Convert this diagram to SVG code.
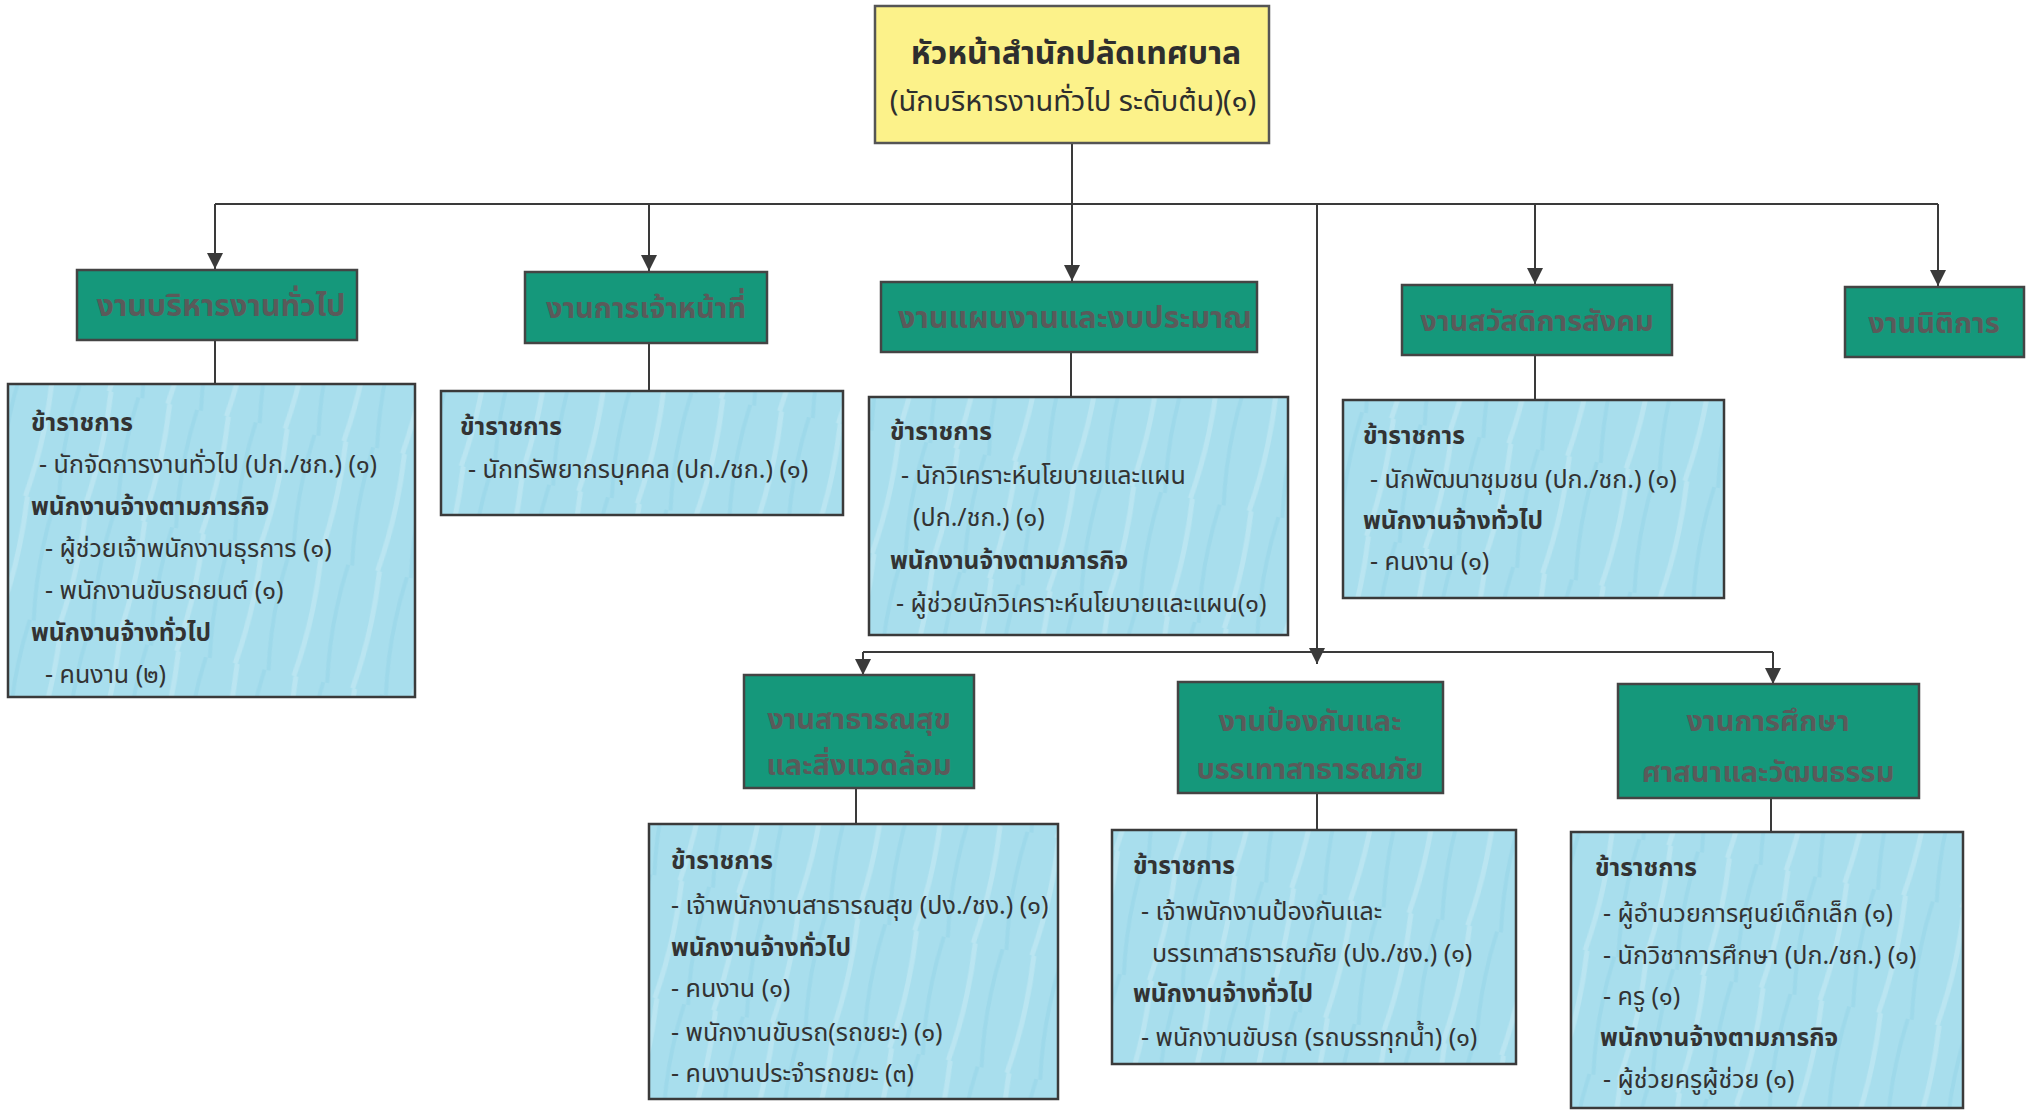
<svg xmlns="http://www.w3.org/2000/svg" width="2028" height="1111" viewBox="0 0 2028 1111">
<style>
.line{stroke:#3a3a3a;stroke-width:2;fill:none}
.head{fill:#fcf28a;stroke:#555;stroke-width:2.5}
.unit{fill:#15987b;stroke:#444;stroke-width:2.5}
.det{fill:url(#streak);stroke:#3a3a3a;stroke-width:2.5}
text{font-family:"Noto Sans Thai","Noto Sans","DejaVu Sans",sans-serif;fill:#333}
.t1{font-size:32px;font-weight:bold;text-anchor:middle;fill:#2e2e2e}
.t2{font-size:29px;text-anchor:middle;fill:#2e2e2e}
.u{font-size:29px;font-weight:bold;text-anchor:middle;fill:#5a5a5a}
.h{font-size:24.5px;font-weight:bold}
.i{font-size:25px}
</style>
<defs>
<pattern id="streak" patternUnits="userSpaceOnUse" width="60" height="120" patternTransform="rotate(12)">
<rect width="60" height="120" fill="#a8deed"/>
<path d="M10,0 Q16,60 8,120" stroke="#c2e9f3" stroke-width="5" fill="none" opacity="0.7"/>
<path d="M38,0 Q32,60 42,120" stroke="#98d6e8" stroke-width="4" fill="none" opacity="0.6"/>
</pattern>
<marker id="arrow" viewBox="0 0 16 16" refX="16" refY="8" markerWidth="16" markerHeight="16" markerUnits="userSpaceOnUse" orient="auto">
<path d="M0,0 L16,8 L0,16 Z" fill="#3a3a3a"/>
</marker>
</defs>

<g id="connectors">
<line class="line" x1="1072" y1="144" x2="1072" y2="204"/>
<line class="line" x1="215" y1="204" x2="1938" y2="204"/>
<line class="line" x1="215" y1="204" x2="215" y2="269" marker-end="url(#arrow)"/>
<line class="line" x1="649" y1="204" x2="649" y2="271" marker-end="url(#arrow)"/>
<line class="line" x1="1072" y1="204" x2="1072" y2="281" marker-end="url(#arrow)"/>
<line class="line" x1="1535" y1="204" x2="1535" y2="284" marker-end="url(#arrow)"/>
<line class="line" x1="1938" y1="204" x2="1938" y2="286" marker-end="url(#arrow)"/>
<line class="line" x1="1317" y1="204" x2="1317" y2="664" marker-end="url(#arrow)"/>
<line class="line" x1="863" y1="652" x2="1773" y2="652"/>
<line class="line" x1="863" y1="652" x2="863" y2="675" marker-end="url(#arrow)"/>
<line class="line" x1="1773" y1="652" x2="1773" y2="684" marker-end="url(#arrow)"/>
<line class="line" x1="215" y1="340" x2="215" y2="384"/>
<line class="line" x1="649" y1="343" x2="649" y2="391"/>
<line class="line" x1="1071" y1="352" x2="1071" y2="397"/>
<line class="line" x1="1535" y1="355" x2="1535" y2="400"/>
<line class="line" x1="856" y1="788" x2="856" y2="824"/>
<line class="line" x1="1317" y1="793" x2="1317" y2="830"/>
<line class="line" x1="1771" y1="798" x2="1771" y2="832"/>
</g>

<g id="head">
<rect class="head" x="875" y="6" width="394" height="137"/>
<text class="t1" x="1076" y="64">หัวหน้าสำนักปลัดเทศบาล</text>
<text class="t2" x="1073" y="111">(นักบริหารงานทั่วไป ระดับต้น)(๑)</text>
</g>

<g id="u1">
<rect class="unit" x="77" y="270" width="280" height="70"/>
<text class="u" x="221" y="316" style="font-size:30.5px">งานบริหารงานทั่วไป</text>
</g>
<g id="u2">
<rect class="unit" x="525" y="272" width="242" height="71"/>
<text class="u" x="646" y="318">งานการเจ้าหน้าที่</text>
</g>
<g id="u3">
<rect class="unit" x="881" y="282" width="376" height="70"/>
<text class="u" x="1075" y="328" style="font-size:30.5px">งานแผนงานและงบประมาณ</text>
</g>
<g id="u4">
<rect class="unit" x="1402" y="285" width="270" height="70"/>
<text class="u" x="1537" y="331">งานสวัสดิการสังคม</text>
</g>
<g id="u5">
<rect class="unit" x="1845" y="287" width="179" height="70"/>
<text class="u" x="1934" y="333">งานนิติการ</text>
</g>
<g id="u6">
<rect class="unit" x="744" y="675" width="230" height="113"/>
<text class="u" x="859" y="729">งานสาธารณสุข</text>
<text class="u" x="859" y="775">และสิ่งแวดล้อม</text>
</g>
<g id="u7">
<rect class="unit" x="1178" y="682" width="265" height="111"/>
<text class="u" x="1310" y="731">งานป้องกันและ</text>
<text class="u" x="1310" y="779">บรรเทาสาธารณภัย</text>
</g>
<g id="u8">
<rect class="unit" x="1618" y="684" width="301" height="114"/>
<text class="u" x="1768" y="731">งานการศึกษา</text>
<text class="u" x="1768" y="782">ศาสนาและวัฒนธรรม</text>
</g>

<g id="d1">
<rect class="det" x="8" y="384" width="407" height="313"/>
<text class="h" x="31" y="431">ข้าราชการ</text>
<text class="i" x="39" y="473">- นักจัดการงานทั่วไป (ปก./ชก.) (๑)</text>
<text class="h" x="31" y="515">พนักงานจ้างตามภารกิจ</text>
<text class="i" x="45" y="557">- ผู้ช่วยเจ้าพนักงานธุรการ (๑)</text>
<text class="i" x="45" y="599">- พนักงานขับรถยนต์ (๑)</text>
<text class="h" x="31" y="641">พนักงานจ้างทั่วไป</text>
<text class="i" x="45" y="683">- คนงาน (๒)</text>
</g>
<g id="d2">
<rect class="det" x="441" y="391" width="402" height="124"/>
<text class="h" x="460" y="435">ข้าราชการ</text>
<text class="i" x="468" y="478">- นักทรัพยากรบุคคล (ปก./ชก.) (๑)</text>
</g>
<g id="d3">
<rect class="det" x="869" y="397" width="419" height="238"/>
<text class="h" x="890" y="440">ข้าราชการ</text>
<text class="i" x="901" y="484">- นักวิเคราะห์นโยบายและแผน</text>
<text class="i" x="913" y="526">(ปก./ชก.) (๑)</text>
<text class="h" x="890" y="569">พนักงานจ้างตามภารกิจ</text>
<text class="i" x="896" y="612">- ผู้ช่วยนักวิเคราะห์นโยบายและแผน(๑)</text>
</g>
<g id="d4">
<rect class="det" x="1343" y="400" width="381" height="198"/>
<text class="h" x="1363" y="444">ข้าราชการ</text>
<text class="i" x="1370" y="488">- นักพัฒนาชุมชน (ปก./ชก.)  (๑)</text>
<text class="h" x="1363" y="529">พนักงานจ้างทั่วไป</text>
<text class="i" x="1370" y="570">- คนงาน (๑)</text>
</g>
<g id="d6">
<rect class="det" x="649" y="824" width="409" height="275"/>
<text class="h" x="671" y="869">ข้าราชการ</text>
<text class="i" x="671" y="914">- เจ้าพนักงานสาธารณสุข (ปง./ชง.) (๑)</text>
<text class="h" x="671" y="956">พนักงานจ้างทั่วไป</text>
<text class="i" x="671" y="997">- คนงาน (๑)</text>
<text class="i" x="671" y="1041">- พนักงานขับรถ(รถขยะ) (๑)</text>
<text class="i" x="671" y="1082">- คนงานประจำรถขยะ (๓)</text>
</g>
<g id="d7">
<rect class="det" x="1112" y="830" width="404" height="234"/>
<text class="h" x="1133" y="874">ข้าราชการ</text>
<text class="i" x="1141" y="920">- เจ้าพนักงานป้องกันและ</text>
<text class="i" x="1152" y="962">บรรเทาสาธารณภัย (ปง./ชง.) (๑)</text>
<text class="h" x="1133" y="1002">พนักงานจ้างทั่วไป</text>
<text class="i" x="1141" y="1046">- พนักงานขับรถ (รถบรรทุกน้ำ) (๑)</text>
</g>
<g id="d8">
<rect class="det" x="1571" y="832" width="392" height="276"/>
<text class="h" x="1595" y="876">ข้าราชการ</text>
<text class="i" x="1603" y="922">- ผู้อำนวยการศูนย์เด็กเล็ก (๑)</text>
<text class="i" x="1603" y="964">- นักวิชาการศึกษา (ปก./ชก.) (๑)</text>
<text class="i" x="1603" y="1005">- ครู (๑)</text>
<text class="h" x="1600" y="1046">พนักงานจ้างตามภารกิจ</text>
<text class="i" x="1603" y="1088">- ผู้ช่วยครูผู้ช่วย (๑)</text>
</g>
</svg>
